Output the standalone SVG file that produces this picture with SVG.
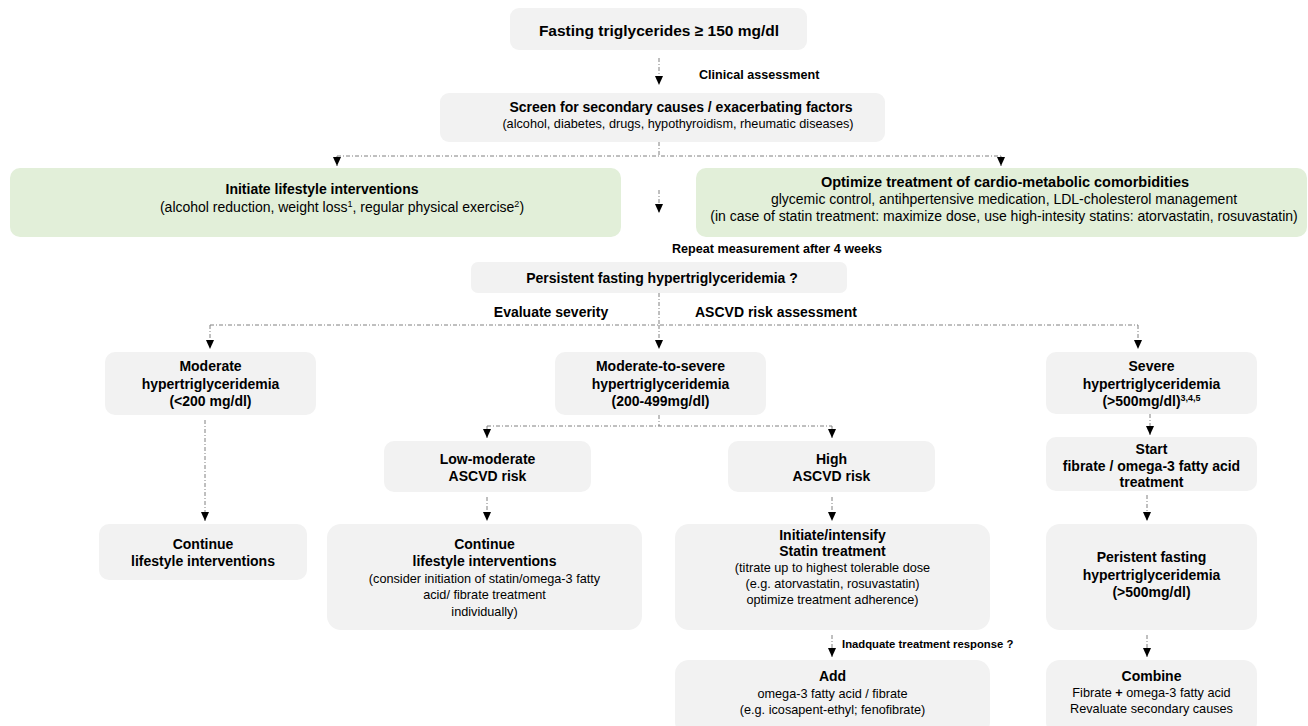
<svg xmlns="http://www.w3.org/2000/svg" width="1308" height="726" viewBox="0 0 1308 726">
<style>
.box{fill:#f2f2f2}
.green{fill:#e2efd9}
text{font-family:"Liberation Sans",Arial,sans-serif;fill:#000;text-anchor:middle}
.b{font-weight:bold;font-size:14px}
.r{font-size:12.7px}
.g{font-size:14px}
.lbl{font-weight:bold;font-size:12.6px;text-anchor:start}
.conn path{fill:none;stroke:#808080;stroke-width:1;stroke-dasharray:4 2 1 2}
.conn path.a{marker-end:url(#ah)}
</style>
<defs>
<marker id="ah" viewBox="0 0 9 8" refX="9" refY="4" markerWidth="9" markerHeight="8" markerUnits="userSpaceOnUse" orient="auto">
<path d="M0,0 L9,4 L0,8 z" fill="#000"/>
</marker>
</defs>
<rect width="1308" height="726" fill="#fff"/>

<g id="connectors" class="conn">
<path class="a" d="M659,58 V85"/>
<path d="M659,142 V156"/>
<path d="M337,156 H1001"/>
<path class="a" d="M337,156 V166"/>
<path class="a" d="M1001,156 V166"/>
<path class="a" d="M659,190 V213"/>
<path d="M659,293 V325"/>
<path d="M210,325 H1138"/>
<path class="a" d="M210,325 V349"/>
<path class="a" d="M659,325 V349"/>
<path class="a" d="M1138,325 V349"/>
<path class="a" d="M205,420 V521"/>
<path d="M659,415 V426"/>
<path d="M487,426 H832"/>
<path class="a" d="M487,426 V438"/>
<path class="a" d="M832,426 V438"/>
<path class="a" d="M1150,414 V435"/>
<path class="a" d="M487,497 V521"/>
<path class="a" d="M832,497 V521"/>
<path class="a" d="M1147,495 V521"/>
<path class="a" d="M832,635 V657"/>
<path class="a" d="M1147,635 V657"/>
</g>

<g id="labels">
<text class="lbl" x="699" y="79">Clinical assessment</text>
<text class="lbl" x="672" y="253">Repeat measurement after 4 weeks</text>
<text class="b" x="551" y="317">Evaluate severity</text>
<text class="b" x="695" y="317" style="text-anchor:start">ASCVD risk assessment</text>
<text class="lbl" x="842" y="648" style="font-size:11.3px">Inadquate treatment response ?</text>
</g>

<g id="n-start">
<rect class="box" x="510" y="8" width="297" height="42" rx="9"/>
<text x="659" y="36" style="font-weight:bold;font-size:15.5px">Fasting triglycerides ≥ 150 mg/dl</text>
</g>

<g id="n-screen">
<rect class="box" x="440" y="93" width="445" height="49" rx="9"/>
<text class="b" x="681" y="112">Screen for secondary causes / exacerbating factors</text>
<text class="r" x="678" y="128">(alcohol, diabetes, drugs, hypothyroidism, rheumatic diseases)</text>
</g>

<g id="n-lifestyle">
<rect class="green" x="10" y="168" width="611" height="69" rx="10"/>
<text class="b" x="322" y="194">Initiate lifestyle interventions</text>
<text class="g" x="342" y="212">(alcohol reduction, weight loss<tspan font-size="9" dy="-5">1</tspan><tspan dy="5">, regular physical exercise</tspan><tspan font-size="9" dy="-5">2</tspan><tspan dy="5">)</tspan></text>
</g>

<g id="n-optimize">
<rect class="green" x="696" y="168" width="611" height="69" rx="10"/>
<text class="b" x="1005" y="187" style="font-size:14.5px">Optimize treatment of cardio-metabolic comorbidities</text>
<text class="g" x="1004" y="204">glycemic control, antihpertensive medication, LDL-cholesterol management</text>
<text class="g" x="1004" y="221">(in case of statin treatment: maximize dose, use high-intesity statins: atorvastatin, rosuvastatin)</text>
</g>

<g id="n-persistent">
<rect class="box" x="471" y="262" width="376" height="31" rx="7"/>
<text class="b" x="662" y="283">Persistent fasting hypertriglyceridemia ?</text>
</g>

<g id="n-moderate">
<rect class="box" x="105" y="352" width="211" height="63" rx="10"/>
<text class="b" x="210.5" y="371">Moderate</text>
<text class="b" x="210.5" y="389">hypertriglyceridemia</text>
<text class="b" x="210.5" y="406">(&lt;200 mg/dl)</text>
</g>

<g id="n-modsevere">
<rect class="box" x="555" y="352" width="211" height="63" rx="10"/>
<text class="b" x="660.5" y="371">Moderate-to-severe</text>
<text class="b" x="660.5" y="389">hypertriglyceridemia</text>
<text class="b" x="660.5" y="406">(200-499mg/dl)</text>
</g>

<g id="n-severe">
<rect class="box" x="1046" y="352" width="211" height="62" rx="10"/>
<text class="b" x="1151.5" y="371">Severe</text>
<text class="b" x="1151.5" y="389">hypertriglyceridemia</text>
<text class="b" x="1151.5" y="406">(&gt;500mg/dl)<tspan font-size="9" dy="-5">3,4,5</tspan></text>
</g>

<g id="n-lowmod">
<rect class="box" x="384" y="441" width="207" height="51" rx="10"/>
<text class="b" x="487.5" y="464">Low-moderate</text>
<text class="b" x="487.5" y="481">ASCVD risk</text>
</g>

<g id="n-high">
<rect class="box" x="728" y="441" width="207" height="51" rx="10"/>
<text class="b" x="831.5" y="464">High</text>
<text class="b" x="831.5" y="481">ASCVD risk</text>
</g>

<g id="n-fibrate">
<rect class="box" x="1046" y="437" width="211" height="54" rx="10"/>
<text class="b" x="1151.5" y="454">Start</text>
<text class="b" x="1151.5" y="471">fibrate / omega-3 fatty acid</text>
<text class="b" x="1151.5" y="487">treatment</text>
</g>

<g id="n-continue1">
<rect class="box" x="99" y="524" width="208" height="56" rx="10"/>
<text class="b" x="203" y="549">Continue</text>
<text class="b" x="203" y="566">lifestyle interventions</text>
</g>

<g id="n-continue2">
<rect class="box" x="327" y="524" width="315" height="106" rx="14"/>
<text class="b" x="484.5" y="549">Continue</text>
<text class="b" x="484.5" y="566">lifestyle interventions</text>
<text class="r" x="484.5" y="583">(consider initiation of statin/omega-3 fatty</text>
<text class="r" x="484.5" y="599">acid/ fibrate treatment</text>
<text class="r" x="484.5" y="616">individually)</text>
</g>

<g id="n-statin">
<rect class="box" x="675" y="524" width="315" height="106" rx="14"/>
<text class="b" x="832.5" y="540">Initiate/intensify</text>
<text class="b" x="832.5" y="556">Statin treatment</text>
<text class="r" x="832.5" y="572">(titrate up to highest tolerable dose</text>
<text class="r" x="832.5" y="588">(e.g. atorvastatin, rosuvastatin)</text>
<text class="r" x="832.5" y="604">optimize treatment adherence)</text>
</g>

<g id="n-peristent">
<rect class="box" x="1046" y="524" width="211" height="106" rx="14"/>
<text class="b" x="1151.5" y="562">Peristent fasting</text>
<text class="b" x="1151.5" y="580">hypertriglyceridemia</text>
<text class="b" x="1151.5" y="597">(&gt;500mg/dl)</text>
</g>

<g id="n-add">
<rect class="box" x="675" y="660" width="315" height="76" rx="14"/>
<text class="b" x="832.5" y="681">Add</text>
<text class="r" x="832.5" y="698">omega-3 fatty acid / fibrate</text>
<text class="r" x="832.5" y="714">(e.g. icosapent-ethyl; fenofibrate)</text>
</g>

<g id="n-combine">
<rect class="box" x="1046" y="660" width="211" height="76" rx="14"/>
<text class="b" x="1151.5" y="681">Combine</text>
<text class="r" x="1151.5" y="697">Fibrate <tspan font-weight="bold">+</tspan> omega-3 fatty acid</text>
<text class="r" x="1151.5" y="713">Revaluate secondary causes</text>
</g>
</svg>
